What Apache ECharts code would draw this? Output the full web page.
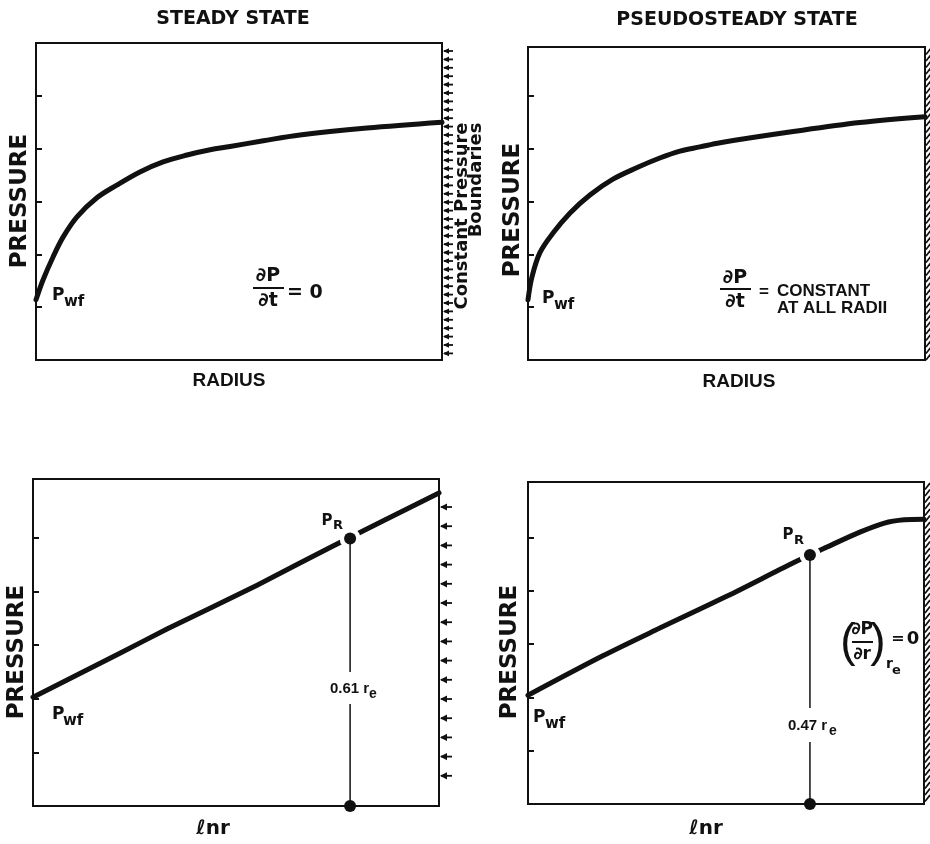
<!DOCTYPE html>
<html><head><meta charset="utf-8">
<script src="https://cdn.jsdelivr.net/npm/echarts@6/dist/echarts.min.js"></script>
<style>html,body{margin:0;padding:0;background:#fff}#c{width:930px;height:844px}</style>
</head><body><div id="c"></div>
<script>
// ---------------- data ----------------
// Steady state: pressure vs radius (relative units, radius 0..100)
const steadyRadius   = [0, 1.7, 4.2, 6.7, 10.1, 15.0, 19.9, 25.6, 31.3, 37.2, 42.9, 47.8, 56, 65, 81.5, 100];
const steadyPressure = [1.14, 1.51, 1.95, 2.33, 2.71, 3.07, 3.31, 3.56, 3.75, 3.88, 3.98, 4.04, 4.15, 4.26, 4.39, 4.50];
// Pseudosteady state: pressure vs radius
const pseudoRadius   = [0, 1.0, 3.0, 6.3, 10.6, 15.6, 21.4, 27.5, 33.2, 38.3, 43.3, 48.4, 66.8, 83.6, 100];
const pseudoPressure = [1.14, 1.57, 2.03, 2.40, 2.78, 3.12, 3.42, 3.64, 3.82, 3.95, 4.03, 4.11, 4.32, 4.49, 4.60];
// Steady state: pressure vs ln r
const steadyLnR      = [0, 21.4, 33.0, 55.2, 73.9, 100];
const steadyLnP      = [2.03, 2.85, 3.30, 4.12, 4.85, 5.84];
const steadyPR       = [78.1, 4.99];   // [ln r position, pressure] of average reservoir pressure point
// Pseudosteady state: pressure vs ln r
const pseudoLnR      = [0, 18.9, 33.3, 50.3, 66.9, 75.5, 83.8, 90, 95, 100];
const pseudoLnP      = [2.04, 2.78, 3.30, 3.90, 4.52, 4.82, 5.10, 5.27, 5.33, 5.34];
const pseudoPR       = [71.2, 4.67];
// axis tick values (pressure)
const pressureTicks  = [1, 2, 3, 4, 5];

// ---------------- helpers ----------------
const INK = '#111';
const BOLD = '"DejaVu Sans", sans-serif';
const ARIAL = '"Liberation Sans", Arial, sans-serif';
const zip = (xs, ys) => xs.map((x, i) => [x, ys[i]]);

const grids = [
  {left: 36,  top: 43,  width: 406, height: 317},
  {left: 528, top: 47,  width: 397, height: 313},
  {left: 33,  top: 479, width: 406, height: 327},
  {left: 528, top: 482, width: 396, height: 322}
];
const yMax = [6.0, 5.92, 6.1, 6.04];
const smoothness = [0.35, 0.35, 0.15, 0.3];

function T(x, y, text, size, o) {
  o = o || {};
  return {
    type: 'text', x: x, y: y, rotation: o.rot || 0, z: 100,
    style: {
      text: text, fontSize: size, fontWeight: o.weight || 'bold', fontFamily: o.family || BOLD,
      fontStyle: o.fstyle || 'normal', fill: INK,
      align: o.align || 'center', verticalAlign: 'middle',
      textAlign: o.align || 'center', textVerticalAlign: 'middle'
    }
  };
}
function bar(x1, x2, y) {
  return {type: 'line', z: 100, shape: {x1: x1, y1: y, x2: x2, y2: y}, style: {stroke: INK, lineWidth: 2}};
}
function whiteBox(x, y, w, h) {
  return {type: 'rect', z: 99, shape: {x: x, y: y, width: w, height: h}, style: {fill: '#fff'}};
}

function marks(idx, kind, spacing, startOff, endOff) {
  return {
    type: 'custom', xAxisIndex: idx, yAxisIndex: idx, silent: true, z: 6, clip: false,
    data: [[0, 0]],
    renderItem: function (params, api) {
      const cs = params.coordSys;
      const x0 = cs.x + cs.width + 1;
      const children = [];
      for (let y = cs.y + startOff; y <= cs.y + cs.height - endOff; y += spacing) {
        if (kind === 'hatch') {
          children.push({type: 'line', shape: {x1: x0, y1: y + 3.5, x2: x0 + 5, y2: y - 3},
            style: {stroke: INK, lineWidth: 1.7}});
        } else {
          const s = kind === 'arrowSmall' ? 2.8 : 3.6;
          const L = kind === 'arrowSmall' ? 6 : 7;
          const tail = kind === 'arrowSmall' ? 10 : 12;
          children.push({type: 'polygon', shape: {points: [[x0, y], [x0 + L, y - s], [x0 + L, y + s]]},
            style: {fill: INK}});
          children.push({type: 'line', shape: {x1: x0 + 1, y1: y, x2: x0 + tail, y2: y},
            style: {stroke: INK, lineWidth: 1.8}});
        }
      }
      return {type: 'group', children: children};
    }
  };
}

const xAxes = grids.map((g, i) => ({
  type: 'value', gridIndex: i, min: 0, max: 100,
  axisLine: {show: false}, axisTick: {show: false}, axisLabel: {show: false}, splitLine: {show: false}
}));
const yAxes = grids.map((g, i) => ({
  type: 'value', gridIndex: i, min: 0, max: yMax[i], interval: 1,
  axisLine: {show: false},
  axisTick: {show: true, inside: true, length: 6, customValues: pressureTicks, lineStyle: {color: INK, width: 2}},
  axisLabel: {show: false}, splitLine: {show: false}
}));

function curve(idx, data) {
  return {type: 'line', xAxisIndex: idx, yAxisIndex: idx, data: data, smooth: smoothness[idx],
    symbol: 'none', lineStyle: {color: INK, width: 5, cap: 'round', join: 'round'}, z: 2, silent: true};
}
function prSeries(idx, pr) {
  return [
    {type: 'scatter', xAxisIndex: idx, yAxisIndex: idx, data: [pr], symbolSize: 21,
      itemStyle: {color: '#fff', opacity: 1}, z: 3, silent: true},
    {type: 'line', xAxisIndex: idx, yAxisIndex: idx, data: [[pr[0], 0], [pr[0], pr[1]]], symbol: 'none',
      lineStyle: {color: INK, width: 1.5}, z: 4, silent: true},
    {type: 'scatter', xAxisIndex: idx, yAxisIndex: idx, data: [pr, [pr[0], 0]], symbolSize: 12,
      itemStyle: {color: INK, opacity: 1}, z: 5, clip: false, silent: true}
  ];
}

const series = [
  curve(0, zip(steadyRadius, steadyPressure)),
  curve(1, zip(pseudoRadius, pseudoPressure)),
  curve(2, zip(steadyLnR, steadyLnP)),
  curve(3, zip(pseudoLnR, pseudoLnP)),
  ...prSeries(2, steadyPR),
  ...prSeries(3, pseudoPR),
  marks(0, 'arrowSmall', 8.4, 8, 6),
  marks(2, 'arrow', 19.2, 28, 28),
  marks(1, 'hatch', 6.5, 4, 2),
  marks(3, 'hatch', 6.5, 4, 2)
];

const R90 = Math.PI / 2;
const graphics = [
  T(233, 19, 'STEADY STATE', 19),
  T(737, 20, 'PSEUDOSTEADY STATE', 19),
  T(20, 201, 'PRESSURE', 23, {rot: R90}),
  T(513, 210, 'PRESSURE', 23, {rot: R90}),
  T(17, 652, 'PRESSURE', 23, {rot: R90}),
  T(510, 652, 'PRESSURE', 23, {rot: R90}),
  T(229, 381, 'RADIUS', 19, {family: ARIAL}),
  T(739, 382, 'RADIUS', 19, {family: ARIAL}),
  T(213, 829, 'ℓnr', 20),
  T(706, 829, 'ℓnr', 20),
  // constant pressure boundaries text
  T(462, 216, 'Constant Pressure', 18, {rot: R90}),
  T(476, 180, 'Boundaries', 18, {rot: R90}),
  // Pwf labels
  T(52, 296, 'P', 17, {align: 'left'}), T(64, 302, 'wf', 15, {align: 'left'}),
  T(542, 299, 'P', 17, {align: 'left'}), T(554, 305, 'wf', 15, {align: 'left'}),
  T(52, 715, 'P', 17, {align: 'left'}), T(63, 721, 'wf', 15, {align: 'left'}),
  T(533, 718, 'P', 17, {align: 'left'}), T(545, 724, 'wf', 15, {align: 'left'}),
  // P_R labels
  T(327, 521, 'P', 15), T(338, 526, 'R', 13),
  T(788, 535, 'P', 15), T(799, 541, 'R', 13),
  // dP/dt = 0
  T(268, 276, '∂P', 19), bar(253, 284, 288), T(268, 301, '∂t', 19),
  T(287, 293, '= 0', 19, {align: 'left'}),
  // dP/dt = CONSTANT AT ALL RADII
  T(735, 278, '∂P', 19), bar(720, 751, 289), T(735, 302, '∂t', 19),
  T(764, 292, '=', 17, {family: ARIAL}),
  T(777, 291, 'CONSTANT', 17, {align: 'left', family: ARIAL}),
  T(777, 308, 'AT ALL RADII', 17, {align: 'left', family: ARIAL}),
  // (dP/dr)_re = 0
  T(848, 643, '(', 46, {weight: 'normal', family: ARIAL}),
  T(862, 630, '∂P', 17), bar(852, 873, 642), T(862, 655, '∂r', 17),
  T(878, 643, ')', 46, {weight: 'normal', family: ARIAL}),
  T(886, 664, 'r', 14, {align: 'left'}), T(892, 671, 'e', 13, {align: 'left'}),
  T(898, 639, '=', 16), T(913, 639, '0', 18),
  // 0.61 re / 0.47 re
  whiteBox(328, 672, 58, 32),
  T(330, 689, '0.61 r', 15, {align: 'left', family: ARIAL}),
  T(369, 694, 'e', 14, {align: 'left', family: ARIAL}),
  whiteBox(786, 708, 64, 34),
  T(788, 726, '0.47 r', 15, {align: 'left', family: ARIAL}),
  T(829, 731, 'e', 14, {align: 'left', family: ARIAL})
];

const chart = echarts.init(document.getElementById('c'), null, {renderer: 'canvas'});
chart.setOption({
  animation: false,
  backgroundColor: '#fff',
  grid: grids.map(g => Object.assign({show: true, borderColor: INK, borderWidth: 2, backgroundColor: 'transparent'}, g)),
  xAxis: xAxes,
  yAxis: yAxes,
  series: series,
  graphic: graphics
});
</script></body></html>
